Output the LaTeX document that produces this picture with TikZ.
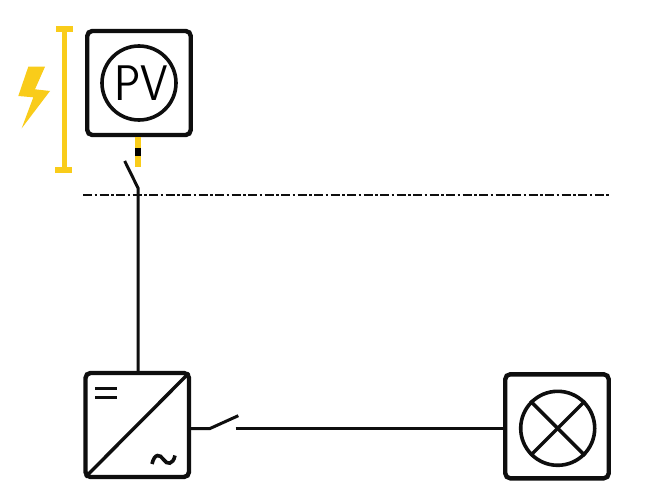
\documentclass[tikz,border=0pt]{standalone}
\usepackage{graphicx}
\definecolor{pvyellow}{HTML}{F9CC1A}
\definecolor{inkblack}{HTML}{0E0E0E}
\tikzset{
  unitbox/.style={draw=inkblack,line width=4.4pt,rounded corners=5pt,minimum width=103.5pt,minimum height=104pt,inner sep=0pt,fill=white},
  ring/.style={circle,draw=inkblack,line width=3.6pt,minimum size=74pt,inner sep=0pt},
  wire/.style={draw=inkblack,line width=3pt},
  bar/.style={draw=pvyellow,line width=5pt},
  boundary/.style={draw=inkblack,line width=1.5pt,dash pattern=on 9pt off 2.5pt on 2.5pt off 2.5pt}
}
\begin{document}
\begin{tikzpicture}[x=1pt,y=-1pt]
\useasboundingbox (0,0) rectangle (650,500);
\fill[white] (0,0) rectangle (650,500);
% lightning
\fill[pvyellow] (28.3,66.7) -- (45,66.7) -- (35,89.3) -- (50,91) -- (21.7,128.3) -- (33.3,97.3) -- (18.3,96) -- cycle;
% bracket
\coordinate (bt) at (64,29);
\coordinate (bb) at (64,170);
\draw[bar] (bt) -- (bb);
\draw[bar,line width=5.4pt] (56,29) -- (73,29);
\draw[bar,line width=5.4pt] (55,170) -- (72,170);
% nodes
\node[unitbox] (pv) at (139,83) {};
\node[ring] (pvring) at (139,83) {};
\node (pvtext) at (141,83) {\fontsize{50pt}{50pt}\selectfont\sffamily\scalebox{0.88}[1]{PV}};
\node[unitbox] (inv) at (137.25,425) {};
\node[unitbox] (lamp) at (557,426.3) {};
\node[ring] (lampring) at (557.7,428.3) {};
% lamp cross
\draw[wire,line width=3.4pt] (lampring.45) -- (lampring.225);
\draw[wire,line width=3.4pt] (lampring.135) -- (lampring.315);
% inverter
\draw[wire,line width=3.4pt,shorten >=3pt,shorten <=3pt] (inv.north east) -- (inv.south west);
\draw[wire] (95,388.3) -- (117,388.3);
\draw[wire] (95,397) -- (117,397);
\draw[draw=inkblack,line width=3.6pt] (152,464) .. controls (154.5,453) and (160,454) .. (163.5,459.5) .. controls (167,465) and (173,465) .. (175,455.5);
% PV stub
\coordinate (stubend) at (138,167);
\draw[draw=pvyellow,line width=5.5pt] (pv.south -| stubend) -- (stubend);
\draw[draw=black,line width=5.5pt] (138,148) -- (138,156);
% dc switch
\coordinate (swtop) at (124.7,161);
\coordinate (swpivot) at (138,188);
\draw[wire] (swtop) -- (swpivot) -- (inv.north -| swpivot);
% boundary
\coordinate (bl) at (83,195);
\coordinate (br) at (609,195);
\draw[boundary] (bl) -- (br);
% ac switch
\coordinate (acpivot) at (210,428.5);
\coordinate (actip) at (238.3,415.7);
\coordinate (acstart) at (235.7,428.5);
\draw[wire] (inv.east |- acpivot) -- (acpivot) -- (actip);
\draw[wire] (acstart) -- (lamp.west |- acstart);
\end{tikzpicture}
\end{document}
